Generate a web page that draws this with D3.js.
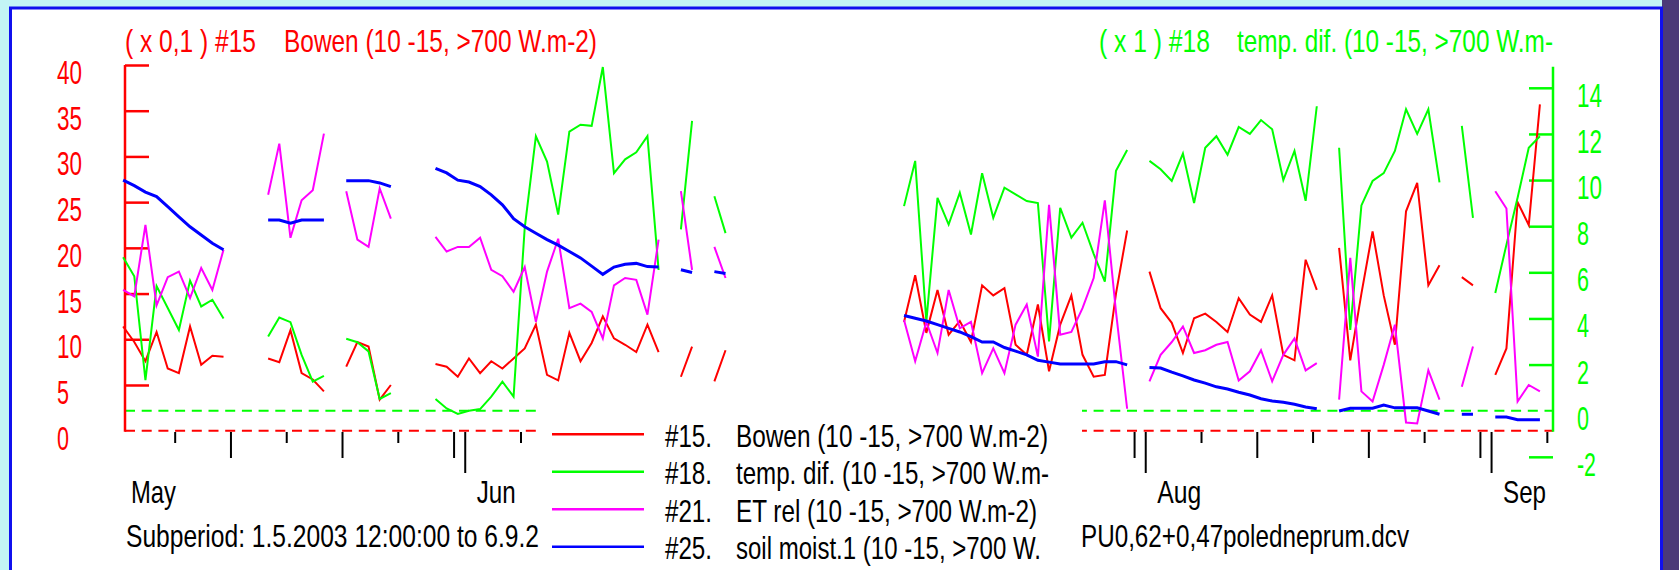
<!DOCTYPE html>
<html>
<head>
<meta charset="utf-8">
<script src="https://cdn.jsdelivr.net/npm/d3@7"></script>
<style>
  html, body { margin: 0; padding: 0; background: #c3f5f5; overflow: hidden; }
  svg { display: block; }
  text { font-family: "Liberation Sans", Arial, sans-serif; font-size: 32px; }
</style>
</head>
<body>
<svg id="chart" width="1679" height="570"></svg>
<script>
// one value per day, 1.5.2003 .. 6.9.2003 (null = no data)
const bowen = [11.4, 9.7, 7.6, 10.8, 6.8, 6.3, 11.4, 7.2, 8.2, 8.1, null, null, null,
  7.9, 7.5, 11.0, 6.3, 5.6, 4.3, null, 7.0, 9.7, 9.2, 3.4, 5.0, null, null, null,
  7.3, 7.0, 5.9, 7.9, 6.3, 7.6, 6.8, 7.9, 9.0, 11.6, 6.1, 5.5, 10.7, 7.6, 9.6, 12.5, 10.1, 9.4, 8.6, 11.6, 8.6,
  null, 5.9, 9.2, null, 5.4, 8.8,
  null, null, null, null, null, null, null, null, null, null, null, null, null, null, null,
  11.9, 17.0, 10.7, 15.4, 10.5, 12.0, 9.7, 15.9, 14.8, 15.6, 9.4, 8.3, 13.8, 6.5, 11.6, 14.8, 8.3, 5.9, 6.1, 15.0, 21.9,
  null,
  17.4, 13.4, 11.8, 8.5, 12.3, 12.8, 11.9, 10.8, 14.5, 12.7, 11.9, 14.8, 8.3, 7.7, 18.7, 15.4,
  null,
  20.0, 7.7, 15.0, 21.8, 14.8, 9.4, 24.0, 27.1, 15.9, 18.1,
  null, 16.8, 15.9, null,
  6.1, 9.0, 25.0, 22.5, 35.7, null];

const tempDif = [6.65, 5.83, 1.33, 5.4, 4.45, 3.5, 5.64, 4.52, 4.81, 4.0, null, null, null,
  3.22, 4.04, 3.84, 2.42, 1.26, 1.51, null, 3.12, 2.97, 2.57, 0.51, 0.76, null, null, null,
  0.51, 0.1, -0.14, 0.0, 0.07, 0.61, 1.26, 0.61, 7.93, 11.9, 10.8, 8.5, 12.1, 12.4, 12.35, 14.9, 10.3, 10.9, 11.2, 11.9, 6.1,
  null, 7.86, 12.57, null, 9.3, 7.7,
  null, null, null, null, null, null, null, null, null, null, null, null, null, null, null,
  8.87, 10.83, 3.87, 9.23, 8.07, 9.45, 7.64, 10.3, 8.36, 9.67, 9.38, 9.09, 9.0, 3.0, 8.8, 7.5, 8.15, 6.8, 5.6, 10.4, 11.3,
  null,
  10.83, 10.47, 9.96, 11.15, 9.0, 11.4, 11.9, 11.1, 12.3, 12.0, 12.6, 12.2, 10.0, 11.26, 9.1, 13.2,
  null,
  11.4, 3.5, 8.9, 9.96, 10.3, 11.26, 13.07, 12.0, 13.07, 9.9,
  null, 12.35, 8.36, null,
  5.1, 7.2, 9.23, 11.4, 11.9, null];

const etRel = [15.4, 14.7, 22.5, 13.7, 16.8, 17.4, 14.5, 17.8, 15.4, 19.8, null, null, null,
  25.8, 31.4, 21.1, 25.2, 26.3, 32.5, null, 26.2, 20.9, 20.1, 26.5, 23.2, null, null, null,
  21.2, 19.6, 20.1, 20.1, 21.1, 17.6, 16.9, 15.2, 17.9, 11.9, 17.4, 21.0, 13.4, 13.9, 13.0, 10.1, 15.9, 16.7, 16.5, 12.7, 20.9,
  null, 26.2, 17.6, null, 20.1, 16.7,
  null, null, null, null, null, null, null, null, null, null, null, null, null, null, null,
  12.1, 7.6, 11.9, 8.5, 15.4, 11.2, 11.9, 6.3, 9.0, 6.3, 11.6, 13.8, 8.1, 24.7, 10.5, 10.8, 13.4, 16.7, 25.2, 13.0, 2.4,
  null,
  5.4, 8.3, 9.7, 11.4, 8.5, 8.8, 9.4, 9.7, 5.5, 6.5, 8.8, 5.4, 8.3, 10.1, 6.6, 7.4,
  null,
  3.4, 18.9, 4.3, 3.2, 7.2, 11.6, 0.9, 0.8, 6.6, 3.4,
  null, 4.8, 9.2, null,
  26.2, 24.3, 3.2, 5.0, 4.3, null];

const soilMoist = [27.4, 26.8, 26.1, 25.6, 24.5, 23.4, 22.3, 21.4, 20.5, 19.8, null, null, null,
  23.05, 23.05, 22.7, 23.05, 23.05, 23.05, null, 27.35, 27.35, 27.35, 27.1, 26.7, null, null, null,
  28.7, 28.2, 27.4, 27.2, 26.7, 25.8, 24.7, 23.2, 22.3, 21.6, 20.9, 20.3, 19.6, 18.9, 18.0, 17.1, 17.9, 18.2, 18.3, 17.95, 17.9,
  null, 17.6, 17.3, null, 17.4, 17.2,
  null, null, null, null, null, null, null, null, null, null, null, null, null, null, null,
  12.6, 12.3, 12.0, 11.6, 11.2, 10.8, 10.3, 9.7, 9.7, 9.1, 8.7, 8.3, 7.7, 7.5, 7.3, 7.3, 7.3, 7.3, 7.55, 7.55, 7.2,
  null,
  6.9, 6.85, 6.4, 6.0, 5.55, 5.2, 4.8, 4.56, 4.2, 3.9, 3.5, 3.25, 3.1, 2.9, 2.6, 2.4,
  null,
  2.15, 2.45, 2.45, 2.45, 2.8, 2.5, 2.5, 2.5, 2.15, 1.8,
  null, 1.8, 1.8, null,
  1.5, 1.5, 1.2, 1.2, 1.2, null];

const leftTicks = [5, 10, 15, 20, 25, 30, 35, 40];
const leftLabels = [0, 5, 10, 15, 20, 25, 30, 35, 40];
const rightTicks = [-2, 2, 4, 6, 8, 10, 12, 14];
const rightLabels = [-2, 0, 2, 4, 6, 8, 10, 12, 14];
const months = [
  { name: "May", date: Date.UTC(2003, 4, 1), w: 45 },
  { name: "Jun", date: Date.UTC(2003, 5, 1), w: 39 },
  { name: "Aug", date: Date.UTC(2003, 7, 1), w: 44 },
  { name: "Sep", date: Date.UTC(2003, 8, 1), w: 43 }
];
const legendItems = [
  { key: "#15.", label: "Bowen (10 -15, >700 W.m-2)", color: "#ff0000", w: 312 },
  { key: "#18.", label: "temp. dif. (10 -15, >700 W.m-", color: "#00ff00", w: 313 },
  { key: "#21.", label: "ET rel (10 -15, >700 W.m-2)", color: "#ff00ff", w: 301 },
  { key: "#25.", label: "soil moist.1 (10 -15, >700 W.", color: "#0000ff", w: 305 }
];

const svg = d3.select("#chart");

// frame
svg.append("rect").attr("x", 0).attr("y", 0).attr("width", 1679).attr("height", 570).attr("fill", "#c3f5f5");
svg.append("rect").attr("x", 1662).attr("y", 0).attr("width", 17).attr("height", 570).attr("fill", "#4b3a78");
svg.append("rect").attr("x", 10.5).attr("y", 8).attr("width", 1651).attr("height", 580)
  .attr("fill", "#ffffff").attr("stroke", "#1010ee").attr("stroke-width", 3);

const x = d3.scaleUtc()
  .domain([Date.UTC(2003, 4, 1), Date.UTC(2003, 8, 7)])
  .range([119.4, 1558.5]);
const yL = d3.scaleLinear().domain([0, 40]).range([430.7, 65]);
const yR = d3.scaleLinear().domain([0, 14]).range([410.7, 87.8]);
const dayX = i => x(Date.UTC(2003, 4, 1 + i, 8));

// zero lines
svg.append("line").attr("x1", 125).attr("x2", 1553).attr("y1", yR(0)).attr("y2", yR(0))
  .attr("stroke", "#00ff00").attr("stroke-width", 2).attr("stroke-dasharray", "10,6.7");
svg.append("line").attr("x1", 125).attr("x2", 1553).attr("y1", yL(0)).attr("y2", yL(0))
  .attr("stroke", "#ff0000").attr("stroke-width", 2).attr("stroke-dasharray", "10,6.7");

// left axis
const leftAxis = svg.append("g").attr("transform", "translate(125,0)")
  .call(d3.axisRight(yL).tickValues(leftTicks).tickSize(24).tickFormat(""));
leftAxis.select(".domain").remove();
leftAxis.selectAll("line").attr("stroke", "#ff0000").attr("stroke-width", 2.5);
svg.append("line").attr("x1", 125).attr("x2", 125).attr("y1", 65).attr("y2", 431.7)
  .attr("stroke", "#ff0000").attr("stroke-width", 2.5);
svg.selectAll(".lblL").data(leftLabels).enter().append("text")
  .attr("x", 57).attr("y", d => yL(d) + 19)
  .attr("fill", "#ff0000")
  .style("font-size", "33px")
  .attr("textLength", d => String(d).length * 13 - 1)
  .attr("lengthAdjust", "spacingAndGlyphs")
  .text(d => d);

// right axis
const rightAxis = svg.append("g").attr("transform", "translate(1553,0)")
  .call(d3.axisLeft(yR).tickValues(rightTicks).tickSize(24).tickFormat(""));
rightAxis.select(".domain").remove();
rightAxis.selectAll("line").attr("stroke", "#00ff00").attr("stroke-width", 2.5);
svg.append("line").attr("x1", 1553).attr("x2", 1553).attr("y1", 66.7).attr("y2", 431.7)
  .attr("stroke", "#00ff00").attr("stroke-width", 2.5);
svg.selectAll(".lblR").data(rightLabels).enter().append("text")
  .attr("x", 1577).attr("y", d => yR(d) + 19)
  .attr("fill", "#00ff00")
  .style("font-size", "33px")
  .attr("textLength", d => d < 0 ? 19 : String(d).length * 13 - 1)
  .attr("lengthAdjust", "spacingAndGlyphs")
  .text(d => d < 0 ? "-" + Math.abs(d) : d);

// time ticks
const tickDays = d3.utcDay.range(Date.UTC(2003, 4, 2), Date.UTC(2003, 8, 7))
  .filter(d => [1, 6, 11, 16, 21, 26, 31].includes(d.getUTCDate()));
svg.selectAll(".tick-t").data(tickDays).enter().append("line")
  .attr("x1", d => x(d)).attr("x2", d => x(d))
  .attr("y1", 432)
  .attr("y2", d => {
    const dd = d.getUTCDate();
    if (dd === 1) return 473;
    if (dd === 11 || dd === 21 || dd === 31) return 458;
    return 443;
  })
  .attr("stroke", "#000").attr("stroke-width", 2);

// series
function drawSeries(values, y, color, width) {
  const line = d3.line()
    .defined(d => d != null)
    .x((d, i) => dayX(i))
    .y(d => y(d));
  svg.append("path").datum(values)
    .attr("fill", "none").attr("stroke", color).attr("stroke-width", width)
    .attr("stroke-linejoin", "miter").attr("d", line);
}
drawSeries(bowen, yL, "#ff0000", 2);
drawSeries(tempDif, yR, "#00ff00", 2);
drawSeries(etRel, yL, "#ff00ff", 2);
drawSeries(soilMoist, yL, "#0000ff", 3);

// titles
function label(txt, x0, y0, w, color) {
  svg.append("text").attr("x", x0).attr("y", y0).attr("fill", color)
    .attr("textLength", w).attr("lengthAdjust", "spacingAndGlyphs").text(txt);
}
label("( x 0,1 ) #15", 125, 52, 131, "#ff0000");
label("Bowen (10 -15, >700 W.m-2)", 284, 52, 313, "#ff0000");
label("( x 1 ) #18", 1099, 52, 111, "#00ff00");
label("temp. dif. (10 -15, >700 W.m-", 1237, 52, 316, "#00ff00");

// month labels
months.forEach(m => label(m.name, x(m.date) + 11.5, 503, m.w, "#000"));

// footer texts
label("Subperiod: 1.5.2003 12:00:00 to 6.9.2", 126, 547, 413, "#000");
label("PU0,62+0,47poledneprum.dcv", 1081, 547, 328, "#000");

// legend
svg.append("rect").attr("x", 541).attr("y", 400).attr("width", 541).attr("height", 170).attr("fill", "#ffffff");
legendItems.forEach((d, i) => {
  const yy = 434.3 + i * 37.5;
  svg.append("line").attr("x1", 552).attr("x2", 644).attr("y1", yy).attr("y2", yy)
    .attr("stroke", d.color).attr("stroke-width", 2.5);
  label(d.key, 665, yy + 12.5, 47, "#000");
  label(d.label, 736, yy + 12.5, d.w, "#000");
});
</script>
</body>
</html>
